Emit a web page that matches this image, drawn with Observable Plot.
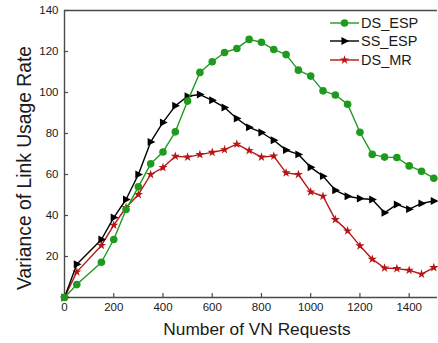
<!DOCTYPE html>
<html>
<head>
<meta charset="utf-8">
<script src="https://cdn.jsdelivr.net/npm/d3@7"></script>
<script src="https://cdn.jsdelivr.net/npm/@observablehq/plot@0.6"></script>
<style>
  body { margin: 0; background: #fff; }
  #wrap { position: relative; width: 438px; height: 343px; font-family: "Liberation Sans", Arial, sans-serif; }
  #wrap svg { position: absolute; left: 0; top: 0; }
  .xtitle { position: absolute; left: 257px; top: 319px; transform: translateX(-50%); font-size: 17.3px; white-space: nowrap; color: #1a1a1a; }
  .ytitle { position: absolute; left: 25px; top: 168px; transform: translate(-50%, -50%) rotate(-90deg); font-size: 19.3px; white-space: nowrap; color: #1a1a1a; }
  .legend { position: absolute; left: 330px; top: 14px; font-size: 14.5px; color: #1a1a1a; }
  .legend .row { display: flex; align-items: center; height: 18.3px; }
  .legend svg { position: static !important; margin-right: 2px; }
</style>
</head>
<body>
<div id="wrap"></div>
<script>
const requests = [0,50,150,200,250,300,350,400,450,500,550,600,650,700,750,800,850,900,950,1000,1050,1100,1150,1200,1250,1300,1350,1400,1450,1500];
const dsEsp = [0,6.3,17.2,28.3,42.9,54,65.2,71,80.8,95.8,109.8,115,119.5,121.5,125.9,124.5,121,118.5,110.9,108,100.8,98.8,94.3,80.6,69.8,68.5,68.3,64.2,61.6,58.2];
const ssEsp = [0,16.2,28.3,39,47.8,60,75.9,85.4,93.5,98.2,99,96.2,92.7,87.3,83,80.5,76.7,71.9,69.8,63.5,59.2,52.3,49.4,48.3,47.8,41.3,45.4,43.1,45.9,47.1];
const dsMr = [0,12.5,25.4,35.3,43.9,50.2,60,63.4,68.9,68.5,69.7,70.8,72.1,74.8,71.7,68.5,69,60.8,60,51.5,49.4,38,32.5,25.2,18.7,14.4,14.1,13.3,11.4,14.6];
const seriesNames = ["DS_ESP","SS_ESP","DS_MR"];
const xTicks = [0,200,400,600,800,1000,1200,1400];
const yTicks = [20,40,60,80,100,120,140];
const xTitle = "Number of VN Requests";
const yTitle = "Variance of Link Usage Rate";

const colors = {DS_ESP: "#1e9b1e", SS_ESP: "#000000", DS_MR: "#b81414"};

const rightTriangle = {
  draw(context, size) {
    const r = Math.sqrt(size / Math.PI);
    context.moveTo(1.3 * r, 0);
    context.lineTo(-0.85 * r, -1.1 * r);
    context.lineTo(-0.85 * r, 1.1 * r);
    context.closePath();
  }
};
const symbols = {DS_ESP: "circle", SS_ESP: rightTriangle, DS_MR: "star"};
const radii = {DS_ESP: 3.8, SS_ESP: 3.6, DS_MR: 2.9};

const mk = (name, vals) => requests.map((x, i) => ({series: name, x, y: vals[i]}));
const data = {DS_ESP: mk("DS_ESP", dsEsp), SS_ESP: mk("SS_ESP", ssEsp), DS_MR: mk("DS_MR", dsMr)};

const axisColor = "#4a4a4a";
const plain = d => String(d);
const marks = [
  Plot.ruleY([140], {stroke: axisColor, strokeWidth: 1.6}),
  Plot.ruleX([0], {stroke: axisColor, strokeWidth: 1.4}),
  Plot.ruleY([0], {stroke: axisColor, strokeWidth: 1.4}),
  Plot.axisX(xTicks, {tickSize: 4, dy: -4, tickFormat: () => "", stroke: axisColor, strokeWidth: 1.2}),
  Plot.axisX(xTicks, {tickSize: 0, tickPadding: 5, fill: "#1a1a1a", tickFormat: plain}),
  Plot.axisY(yTicks, {tickSize: 4, dx: 4, tickFormat: () => "", stroke: axisColor, strokeWidth: 1.2}),
  Plot.axisY(yTicks, {tickSize: 0, tickPadding: 6, fill: "#1a1a1a", tickFormat: plain})
];
for (const name of ["DS_MR", "SS_ESP", "DS_ESP"]) {
  marks.push(Plot.line(data[name], {x: "x", y: "y", stroke: colors[name], strokeWidth: 1.4}));
  marks.push(Plot.dot(data[name], {x: "x", y: "y", fill: colors[name], stroke: "none", symbol: () => symbols[name], r: radii[name]}));
}

const chart = Plot.plot({
  width: 438,
  height: 343,
  marginLeft: 64,
  marginRight: 1,
  marginTop: 10,
  marginBottom: 46,
  style: {fontFamily: "'Liberation Sans', Arial, sans-serif", fontSize: "11.5px", background: "transparent", overflow: "visible"},
  x: {domain: [0, 1515], label: null},
  y: {domain: [0, 140], label: null},
  symbol: {type: "identity"},
  marks
});

const wrap = document.getElementById("wrap");
wrap.appendChild(chart);

const xt = document.createElement("div"); xt.className = "xtitle"; xt.textContent = xTitle; wrap.appendChild(xt);
const yt = document.createElement("div"); yt.className = "ytitle"; yt.textContent = yTitle; wrap.appendChild(yt);

const leg = document.createElement("div"); leg.className = "legend";
for (const name of seriesNames) {
  const row = document.createElement("div"); row.className = "row";
  const sw = d3.create("svg").attr("width", 29).attr("height", 12);
  sw.append("line").attr("x1", 0).attr("x2", 29).attr("y1", 6).attr("y2", 6).attr("stroke", colors[name]).attr("stroke-width", 1.4);
  const sym = typeof symbols[name] === "string" ? (symbols[name] === "circle" ? d3.symbolCircle : d3.symbolStar) : symbols[name];
  const r = radii[name];
  sw.append("path").attr("transform", "translate(14.5,6)").attr("d", d3.symbol(sym, r * r * Math.PI)()).attr("fill", colors[name]);
  row.appendChild(sw.node());
  const t = document.createElement("span"); t.textContent = name; row.appendChild(t);
  leg.appendChild(row);
}
wrap.appendChild(leg);
</script>
</body>
</html>
